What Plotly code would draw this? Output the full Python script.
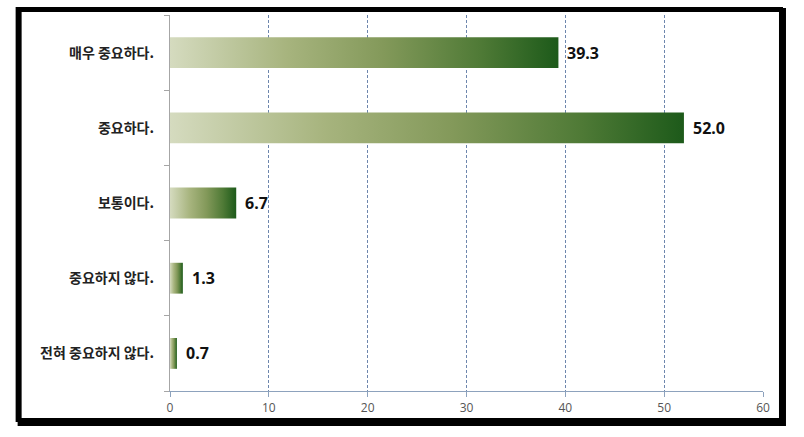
import plotly.graph_objects as go

categories = ["매우 중요하다.", "중요하다.", "보통이다.", "중요하지 않다.", "전혀 중요하지 않다."]
values = [39.3, 52.0, 6.7, 1.3, 0.7]
x_ticks = [0, 10, 20, 30, 40, 50, 60]

W, H = 804, 437
L, R, T, B = 169.5, 41, 15, 46
pw, ph = W - L - R, H - T - B

def px_x(p):
    return (p - L) / pw

def px_y(p):
    return (H - B - p) / ph

colorscale = [[0, "#d5dbbf"], [0.3, "#a7b47e"], [0.55, "#83995a"], [0.8, "#4f7a36"], [1, "#1d5a1a"]]
half = 0.205

fig = go.Figure()
for i, (c, v) in enumerate(zip(categories, values)):
    fig.add_trace(go.Scatter(
        x=[0, v, v, 0, 0],
        y=[i - half, i - half, i + half, i + half, i - half],
        mode="lines", line=dict(width=0), fill="toself",
        fillgradient=dict(type="horizontal", colorscale=colorscale, start=0, stop=v),
        hoverinfo="skip", showlegend=False,
    ))
    fig.add_annotation(x=v, y=i, text=f"{v:.1f}", showarrow=False,
                       xanchor="left", yanchor="middle", xshift=7,
                       font=dict(family="Noto Sans, DejaVu Sans", size=16, color="#111111", weight="bold"))

fig.update_xaxes(range=[0, 60], tickvals=x_ticks, ticktext=[str(t) for t in x_ticks],
                 showgrid=True, gridcolor="#6d86ad", griddash="3px,2px", gridwidth=1,
                 showline=True, linecolor="#8da2bd", linewidth=1.3,
                 ticks="outside", ticklen=5, tickcolor="#8da2bd",
                 tickfont=dict(family="Open Sans, Liberation Sans", size=12, color="#555555"),
                 zeroline=False, fixedrange=True)
fig.update_yaxes(range=[4.5, -0.5], tickvals=list(range(len(categories))), ticktext=categories,
                 ticks="", showline=True, linecolor="#a6a6a6", linewidth=1.3,
                 showgrid=False, zeroline=False,
                 minor=dict(tickvals=[-0.5, 0.5, 1.5, 2.5, 3.5, 4.5], ticks="outside", ticklen=5,
                            tickcolor="#a6a6a6", showgrid=False),
                 ticklabelstandoff=12,
                 tickfont=dict(family="Noto Sans CJK KR", size=14, color="#222222", weight="bold"),
                 fixedrange=True)

# outer frame with shadow
fig.add_shape(type="rect", xref="paper", yref="paper",
              x0=px_x(19), x1=px_x(784), y0=px_y(424), y1=px_y(10),
              line=dict(color="#000000", width=4), fillcolor="rgba(0,0,0,0)", layer="above")
fig.add_shape(type="rect", xref="paper", yref="paper",
              x0=px_x(17), x1=px_x(781), y0=px_y(420), y1=px_y(9),
              line=dict(color="#000000", width=4), fillcolor="rgba(0,0,0,0)", layer="above")

fig.update_layout(width=W, height=H, margin=dict(l=L, r=R, t=T, b=B),
                  paper_bgcolor="white", plot_bgcolor="white", showlegend=False)
fig.write_html("out.html")
